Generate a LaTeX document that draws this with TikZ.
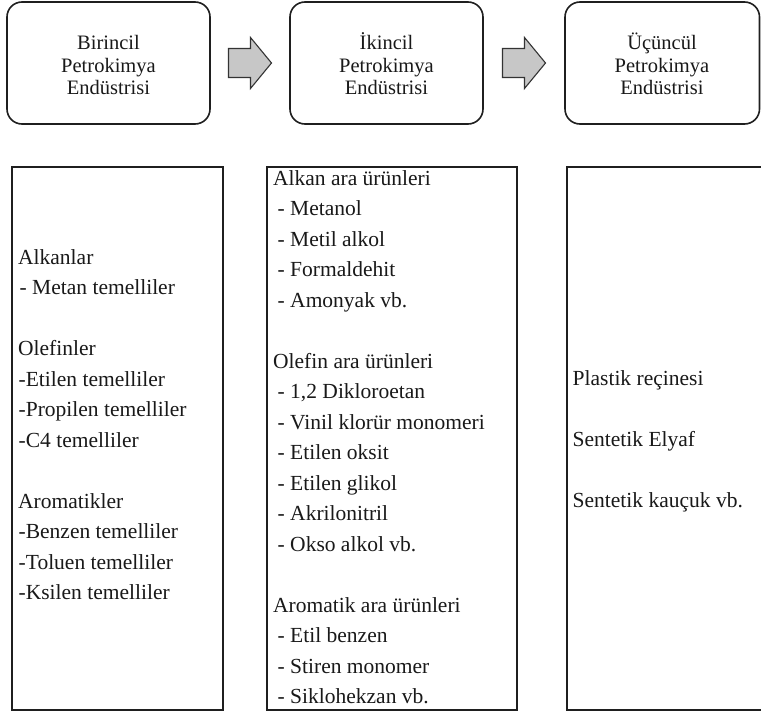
\documentclass[tikz,border=0pt]{standalone}
\usepackage{fontspec}
\setmainfont{Liberation Serif}
\usetikzlibrary{calc}
\begin{document}
\begin{tikzpicture}[x=1pt,y=-1pt,
  topbox/.style={draw=black!88, line width=1.6pt, rounded corners=15pt, inner sep=0pt},
  listbox/.style={draw=black!88, line width=1.5pt, inner sep=0pt},
  titleline/.style={anchor=base, inner sep=0pt, text=black!90, font=\fontsize{20.5}{22}\selectfont},
  entry/.style={anchor=base west, inner sep=0pt, text=black!90, font=\fontsize{21.5}{30}\selectfont},
  blockarrow/.style={draw=black!80, line width=1.1pt, fill=black!22, line join=miter}
]
% page area
\clip (0,0) rectangle (761,712);
\fill[white] (0,0) rectangle (761,712);

% three stages of the industry
\node[topbox, minimum width=203pt, minimum height=122pt] (b1) at (108.5,63) {};
\node[topbox, minimum width=193pt, minimum height=122pt] (b2) at (386.5,63) {};
\node[topbox, minimum width=194.5pt, minimum height=122pt] (b3) at (662.25,63) {};

\node[titleline] (t1a) at (108.5,49.5) {Birincil};
\node[titleline] (t1b) at (108.5,72) {Petrokimya};
\node[titleline] (t1c) at (108.5,94.5) {Endüstrisi};
\node[titleline] (t2a) at (386.5,49.5) {İkincil};
\node[titleline] (t2b) at (386.5,72) {Petrokimya};
\node[titleline] (t2c) at (386.5,94.5) {Endüstrisi};
\node[titleline] (t3a) at (662,49.5) {Üçüncül};
\node[titleline] (t3b) at (662,72) {Petrokimya};
\node[titleline] (t3c) at (662,94.5) {Endüstrisi};

% block arrows between the stages
\coordinate (m1) at ($(b1.east)!0.5!(b2.west)$);
\coordinate (m2) at ($(b2.east)!0.5!(b3.west)$);
\foreach \m in {m1,m2}
  \draw[blockarrow] ($(\m)+(-21.5,-14.5)$) -- ++(22,0) -- ++(0,-11)
    -- ++(21,25.5) -- ++(-21,25.5) -- ++(0,-11) -- ++(-22,0) -- cycle;

% product lists
\node[listbox, minimum width=211pt, minimum height=543pt] (la) at (117.5,438.5) {};
\node[listbox, minimum width=250pt, minimum height=543pt] (lb) at (392,438.5) {};
\node[listbox, minimum width=250pt, minimum height=543pt] (lc) at (692,438.5) {};

\foreach \x/\k/\t [count=\i] in {
  18/0/Alkanlar,
  19.5/1/- Metan temelliler,
  18/3/Olefinler,
  18.5/4/-Etilen temelliler,
  18.5/5/-Propilen temelliler,
  18.5/6/-C4 temelliler,
  18/8/Aromatikler,
  18.5/9/-Benzen temelliler,
  18.5/10/-Toluen temelliler,
  18.5/11/-Ksilen temelliler}
  \node[entry] (a\i) at (\x, 264+30.5*\k) {\t};

\foreach \x/\k/\t [count=\i] in {
  273/0/Alkan ara ürünleri,
  277.5/1/- Metanol,
  277.5/2/- Metil alkol,
  277.5/3/- Formaldehit,
  277.5/4/- Amonyak vb.,
  273/6/Olefin ara ürünleri,
  277.5/7/{- 1,2 Dikloroetan},
  277.5/8/- Vinil klorür monomeri,
  277.5/9/- Etilen oksit,
  277.5/10/- Etilen glikol,
  277.5/11/- Akrilonitril,
  277.5/12/- Okso alkol vb.,
  273/14/Aromatik ara ürünleri,
  277.5/15/- Etil benzen,
  277.5/16/- Stiren monomer,
  277.5/17/- Siklohekzan vb.}
  \node[entry] (b\i) at (\x, 185+30.5*\k) {\t};

\foreach \x/\k/\t [count=\i] in {
  572.5/0/Plastik reçinesi,
  572.5/2/Sentetik Elyaf,
  572.5/4/Sentetik kauçuk vb.}
  \node[entry] (c\i) at (\x, 385+30.5*\k) {\t};
\end{tikzpicture}
\end{document}
